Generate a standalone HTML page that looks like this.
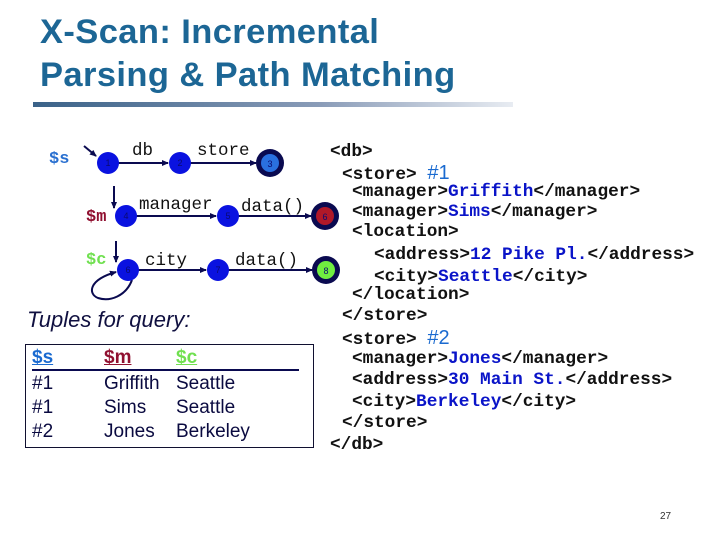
<!DOCTYPE html>
<html><head><style>
body{margin:0;width:720px;height:540px;background:#fff;position:relative;overflow:hidden;font-family:"Liberation Sans",sans-serif}
.t{position:absolute;white-space:pre}
.title{left:40px;font-weight:bold;font-size:34.5px;color:#1c6695;letter-spacing:0.4px}
.code{font-family:"Liberation Mono",monospace;font-weight:bold;font-size:17.8px;color:#111;line-height:20px}
.code b{color:#0a14c8}
.h{color:#1a6ad0;font-family:"Liberation Sans",sans-serif;font-weight:normal;font-size:20px}
.tb{font-size:19px;color:#0a0a40;line-height:24px}
</style></head><body>
<div class="t title" style="top:13px">X-Scan: Incremental</div>
<div class="t title" style="top:56px">Parsing &amp; Path Matching</div>
<div style="position:absolute;left:33px;top:102px;width:480px;height:5px;background:linear-gradient(90deg,#3a6288,#8a9cb8 60%,#e8ecf2)"></div>

<svg width="720" height="540" style="position:absolute;left:0;top:0">
<defs><marker id="a" markerWidth="7" markerHeight="7" refX="6" refY="3.5" orient="auto" markerUnits="userSpaceOnUse"><path d="M0,0.5 L7,3.5 L0,6.5z" fill="#0a0a50"/></marker></defs>
<g stroke="#0a0a50" stroke-width="2" fill="none">
<line x1="84" y1="146" x2="96" y2="156" marker-end="url(#a)"/>
<line x1="118" y1="163" x2="168" y2="163" marker-end="url(#a)"/>
<line x1="190" y1="163" x2="256" y2="163" marker-end="url(#a)"/>
<line x1="114" y1="186" x2="114" y2="208" marker-end="url(#a)"/>
<line x1="136" y1="216" x2="216" y2="216" marker-end="url(#a)"/>
<line x1="238" y1="216" x2="311" y2="216" marker-end="url(#a)"/>
<line x1="116" y1="241" x2="116" y2="262" marker-end="url(#a)"/>
<line x1="138" y1="270" x2="206" y2="270" marker-end="url(#a)"/>
<line x1="228" y1="270" x2="312" y2="270" marker-end="url(#a)"/>
<path d="M132,280 C126,296 110,302 98,298 C88,294 88,280 116,272" marker-end="url(#a)"/>
</g>
<g fill="#0a12e0">
<circle cx="108" cy="163" r="11"/><circle cx="180" cy="163" r="11"/>
<circle cx="126" cy="216" r="11"/><circle cx="228" cy="216" r="11"/>
<circle cx="128" cy="270" r="11"/><circle cx="218" cy="270" r="11"/>
</g>
<circle cx="270" cy="163" r="14" fill="#0a0a50"/><circle cx="270" cy="163" r="9" fill="#2a70e0"/>
<circle cx="325" cy="216" r="14" fill="#0a0a50"/><circle cx="325" cy="216" r="9" fill="#b01828"/>
<circle cx="326" cy="270" r="14" fill="#0a0a50"/><circle cx="326" cy="270" r="9" fill="#70ee40"/>
<g font-family="Liberation Sans" font-size="9" text-anchor="middle" fill="#0a0a70">
<text x="108" y="166">1</text><text x="180" y="166">2</text><text x="270" y="167">3</text>
<text x="126" y="219">4</text><text x="228" y="219">5</text><text x="325" y="220">6</text>
<text x="128" y="273">6</text><text x="218" y="273">7</text><text x="326" y="274">8</text>
</g>
<g font-family="Liberation Mono" font-size="17.5" fill="#111">
<text x="132" y="155">db</text><text x="197" y="155">store</text>
<text x="139" y="209">manager</text><text x="241" y="211">data()</text>
<text x="145" y="265">city</text><text x="235" y="265">data()</text>
</g>
<g font-family="Liberation Mono" font-size="17" font-weight="bold">
<text x="49" y="163" fill="#2a70d0">$s</text>
<text x="86" y="221" fill="#901030">$m</text>
<text x="86" y="264" fill="#70e050">$c</text>
</g>
</svg>

<div class="t" style="left:27px;top:307px;font-size:22px;font-style:italic;color:#101040">Tuples for query:</div>
<div style="position:absolute;left:25px;top:344px;width:287px;height:102px;border:1px solid #101030"></div>
<div style="position:absolute;left:32px;top:369px;width:267px;height:2px;background:#0a0a50"></div>
<div class="t tb" style="left:32px;top:346px;font-weight:bold;text-decoration:underline;color:#1a6ad0">$s</div>
<div class="t tb" style="left:104px;top:346px;font-weight:bold;text-decoration:underline;color:#901030">$m</div>
<div class="t tb" style="left:176px;top:346px;font-weight:bold;text-decoration:underline;color:#70e050">$c</div>
<div class="t tb" style="left:32px;top:372px">#1
#1
#2</div>
<div class="t tb" style="left:104px;top:372px">Griffith
Sims
Jones</div>
<div class="t tb" style="left:176px;top:372px">Seattle
Seattle
Berkeley</div>

<div class="t code" style="left:330px;top:142px">&lt;db&gt;</div>
<div class="t code" style="left:342px;top:163px">&lt;store&gt; <span class="h">#1</span></div>
<div class="t code" style="left:352px;top:182px">&lt;manager&gt;<b>Griffith</b>&lt;/manager&gt;</div>
<div class="t code" style="left:352px;top:202px">&lt;manager&gt;<b>Sims</b>&lt;/manager&gt;</div>
<div class="t code" style="left:352px;top:222px">&lt;location&gt;</div>
<div class="t code" style="left:374px;top:245px">&lt;address&gt;<b>12 Pike Pl.</b>&lt;/address&gt;</div>
<div class="t code" style="left:374px;top:267px">&lt;city&gt;<b>Seattle</b>&lt;/city&gt;</div>
<div class="t code" style="left:352px;top:285px">&lt;/location&gt;</div>
<div class="t code" style="left:342px;top:306px">&lt;/store&gt;</div>
<div class="t code" style="left:342px;top:328px">&lt;store&gt; <span class="h">#2</span></div>
<div class="t code" style="left:352px;top:349px">&lt;manager&gt;<b>Jones</b>&lt;/manager&gt;</div>
<div class="t code" style="left:352px;top:370px">&lt;address&gt;<b>30 Main St.</b>&lt;/address&gt;</div>
<div class="t code" style="left:352px;top:392px">&lt;city&gt;<b>Berkeley</b>&lt;/city&gt;</div>
<div class="t code" style="left:342px;top:413px">&lt;/store&gt;</div>
<div class="t code" style="left:330px;top:435px">&lt;/db&gt;</div>

<div class="t" style="left:660px;top:511px;font-size:10px;color:#333">27</div>
</body></html>
